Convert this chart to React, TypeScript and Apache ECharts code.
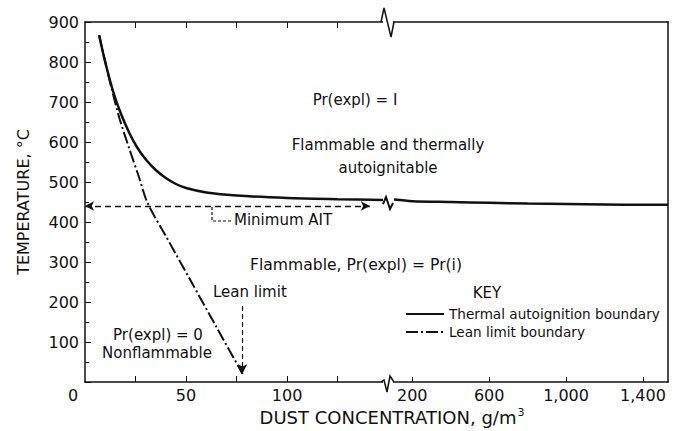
import React, { useEffect, useRef } from "react";
import * as echarts from "echarts";

// ---- data ----
const yTickLabels = [100, 200, 300, 400, 500, 600, 700, 800, 900];
const xLeftLabels = [0, 50, 100];
const xLeftTicks = [25, 50, 75, 100, 125];
const xRightLabels = [200, 600, 1000, 1400];

const thermalLeft: [number, number][] = [
  [7, 867], [10, 800], [14, 725], [18, 668], [22, 622], [26, 585], [30, 557],
  [35, 530], [40, 510], [45, 495], [50, 485], [60, 474], [75, 466], [100, 460],
  [125, 457], [147.5, 455],
];
const thermalRight: [number, number][] = [
  [105, 456], [200, 452], [400, 450], [600, 448], [800, 446], [1000, 445],
  [1200, 444], [1400, 443], [1530, 443],
];
const leanLimit: [number, number][] = [
  [7, 867], [10, 801], [13, 737], [17, 660], [22, 582], [27, 508], [31, 447],
  [40, 365], [52, 256], [65, 138], [78, 20],
];
const minAIT = 440;
const minAITEnd = 141;
const leanLimitX = 78;
const leanArrowFrom = 190;
const leanArrowTo = 22;

const INK = "#111";
const FONT = "DejaVu Sans";

export default function App() {
  const ref = useRef<HTMLDivElement>(null);
  useEffect(() => {
    if (!ref.current) return;
    const chart = echarts.init(ref.current, undefined, { renderer: "svg" });
    const axisLine = { show: true, lineStyle: { color: INK, width: 1.5 } };
    const tickStyle = { color: INK, width: 1 };
    const labelStyle = { color: INK, fontFamily: FONT, fontSize: 16 };
    const textStyle = (size = 15) => ({ fill: INK, font: `${size}px "${FONT}"` });

    chart.setOption({
      animation: false,
      backgroundColor: "#fff",
      grid: [
        { left: 85, top: 22, width: 298, height: 360 },
        { left: 393, top: 22, width: 275, height: 360 },
      ],
      xAxis: [
        {
          type: "value", gridIndex: 0, position: "bottom", min: 0, max: 147.5,
          axisLine, splitLine: { show: false },
          axisTick: { show: true, inside: true, length: 6, lineStyle: tickStyle, customValues: xLeftTicks },
          axisLabel: {
            ...labelStyle, margin: 5, customValues: xLeftLabels,
            formatter: (v: number) => (v === 0 ? "{z|0}" : String(v)),
            rich: { z: { fontFamily: FONT, fontSize: 16, color: INK, padding: [0, 24, 0, 0] } },
          },
        },
        {
          type: "value", gridIndex: 0, position: "top", min: 0, max: 147.5,
          axisLine, splitLine: { show: false },
          axisTick: { show: true, inside: true, length: 6, lineStyle: tickStyle, customValues: xLeftTicks },
          axisLabel: { show: false },
        },
        {
          type: "value", gridIndex: 1, position: "bottom", min: 100, max: 1530,
          axisLine, splitLine: { show: false },
          axisTick: { show: true, inside: true, length: 5, lineStyle: tickStyle, customValues: xRightLabels },
          axisLabel: {
            ...labelStyle, margin: 5, customValues: xRightLabels,
            formatter: (v: number) => v.toLocaleString("en-US"),
          },
        },
        {
          type: "value", gridIndex: 1, position: "top", min: 100, max: 1530,
          axisLine, splitLine: { show: false }, axisTick: { show: false }, axisLabel: { show: false },
        },
      ],
      yAxis: [
        {
          type: "value", gridIndex: 0, min: 0, max: 900, interval: 100,
          axisLine, splitLine: { show: false },
          axisTick: { show: true, inside: true, length: 6, lineStyle: tickStyle },
          minorTick: { show: true, splitNumber: 2, length: 4, lineStyle: tickStyle },
          axisLabel: { ...labelStyle, margin: 6, customValues: yTickLabels },
          name: "TEMPERATURE, °C", nameLocation: "middle", nameGap: 54,
          nameTextStyle: { color: INK, fontFamily: FONT, fontSize: 16 },
        },
        {
          type: "value", gridIndex: 1, position: "right", min: 0, max: 900,
          axisLine, splitLine: { show: false }, axisTick: { show: false }, axisLabel: { show: false },
        },
      ],
      legend: {
        left: 405, top: 307, padding: 0, orient: "vertical", itemWidth: 38, itemHeight: 14, itemGap: 4,
        data: ["Thermal autoignition boundary", "Lean limit boundary"],
        itemStyle: { opacity: 0 },
        textStyle: { color: INK, fontFamily: FONT, fontSize: 13.6 },
        selectedMode: false,
      },
      series: [
        {
          name: "Thermal autoignition boundary", type: "line", xAxisIndex: 0, yAxisIndex: 0,
          data: thermalLeft, symbol: "none", smooth: 0.3,
          lineStyle: { color: INK, width: 2.5 }, itemStyle: { color: INK },
          markLine: {
            silent: true, symbol: ["arrow", "arrow"], symbolSize: [7, 9],
            label: { show: false },
            lineStyle: { color: INK, type: [6, 4], width: 1.3 },
            data: [[{ coord: [0, minAIT] }, { coord: [minAITEnd, minAIT] }]],
          },
        },
        {
          name: "Lean limit boundary", type: "line", xAxisIndex: 0, yAxisIndex: 0,
          data: leanLimit, symbol: "none", smooth: 0.3,
          lineStyle: { color: INK, width: 2, type: [12, 3, 2, 3] }, itemStyle: { color: INK },
          markLine: {
            silent: true, symbol: ["none", "arrow"], symbolSize: [7, 9],
            label: { show: false },
            lineStyle: { color: INK, type: [5, 3], width: 1.2 },
            data: [[{ coord: [leanLimitX, leanArrowFrom] }, { coord: [leanLimitX, leanArrowTo] }]],
          },
        },
        {
          name: "Thermal autoignition boundary", type: "line", xAxisIndex: 2, yAxisIndex: 1,
          data: thermalRight, symbol: "none", smooth: 0.3,
          lineStyle: { color: INK, width: 2.5 }, itemStyle: { color: INK },
        },
      ],
      graphic: [
        // axis break marks
        { type: "rect", shape: { x: 383, y: 18, width: 10, height: 8 }, style: { fill: "#fff" }, z: 100 },
        { type: "polyline", shape: { points: [[381, 22], [384, 8], [391, 37], [394, 22]] }, style: { stroke: INK, lineWidth: 1.5, fill: "none" }, z: 101 },
        { type: "rect", shape: { x: 383, y: 378, width: 10, height: 8 }, style: { fill: "#fff" }, z: 100 },
        { type: "polyline", shape: { points: [[381, 382], [384, 380], [387, 392], [390, 376], [394, 382]] }, style: { stroke: INK, lineWidth: 1.5, fill: "none" }, z: 101 },
        { type: "polyline", shape: { points: [[383, 204], [386, 197], [390, 209], [393, 203]] }, style: { stroke: INK, lineWidth: 2, fill: "none" }, z: 101 },
        // leader to Minimum AIT
        { type: "polyline", shape: { points: [[212, 207], [212, 221], [232, 221]] }, style: { stroke: INK, lineWidth: 1.2, lineDash: [3, 2], fill: "none" } },
        // annotations
        { type: "text", x: 355, y: 100, style: { ...textStyle(15), text: "Pr(expl) = I", align: "center", verticalAlign: "middle" } },
        { type: "text", x: 388, y: 145, style: { ...textStyle(15), text: "Flammable and thermally", align: "center", verticalAlign: "middle" } },
        { type: "text", x: 388, y: 168, style: { ...textStyle(15), text: "autoignitable", align: "center", verticalAlign: "middle" } },
        { type: "text", x: 234, y: 220, style: { ...textStyle(15), text: "Minimum AIT", align: "left", verticalAlign: "middle" } },
        { type: "text", x: 250, y: 265, style: { ...textStyle(15.6), text: "Flammable, Pr(expl) = Pr(i)", align: "left", verticalAlign: "middle" } },
        { type: "text", x: 213, y: 292, style: { ...textStyle(15), text: "Lean limit", align: "left", verticalAlign: "middle" } },
        { type: "text", x: 487, y: 293, style: { ...textStyle(15), text: "KEY", align: "center", verticalAlign: "middle" } },
        { type: "text", x: 158, y: 335, style: { ...textStyle(15), text: "Pr(expl) = 0", align: "center", verticalAlign: "middle" } },
        { type: "text", x: 157, y: 353, style: { ...textStyle(15), text: "Nonflammable", align: "center", verticalAlign: "middle" } },
        {
          type: "text", x: 392, y: 417,
          style: {
            text: "{a|DUST CONCENTRATION, g/m}{s|3}", align: "center", verticalAlign: "middle",
            rich: {
              a: { fontFamily: FONT, fontSize: 18, fill: INK, color: INK },
              s: { fontFamily: FONT, fontSize: 11, fill: INK, color: INK, verticalAlign: "top", padding: [0, 0, 10, 1] },
            },
          },
        },
      ],
    });
    return () => chart.dispose();
  }, []);
  return <div ref={ref} style={{ position: "fixed", left: 0, top: 0, width: 679, height: 431, background: "#fff" }} />;
}
